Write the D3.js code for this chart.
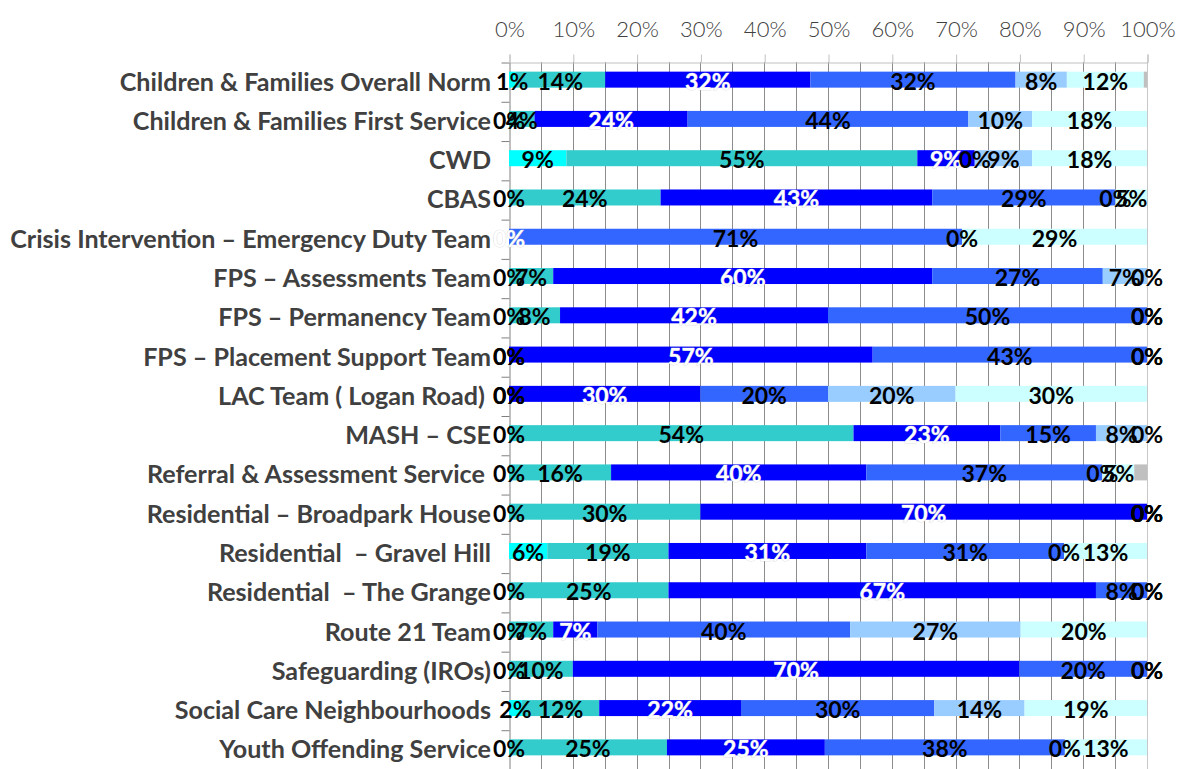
<!DOCTYPE html>
<html>
<head>
<meta charset="utf-8">
<script src="https://cdnjs.cloudflare.com/ajax/libs/d3/7.8.5/d3.min.js"></script>
<style>
body{margin:0;background:#fff;}
svg{display:block;}
.cat{font-family:Lato,"Open Sans",sans-serif;font-weight:bold;fill:#404040;white-space:pre;}
.top-axis text{font-family:Lato,"Open Sans",sans-serif;font-weight:300;fill:#404040;font-size:22px;}
.val{font-family:Lato,"Open Sans",sans-serif;font-weight:bold;font-size:23px;}
</style>
</head>
<body>
<svg></svg>
<script>

var categories = [
    "Children & Families Overall Norm",
    "Children & Families First Service",
    "CWD",
    "CBAS",
    "Crisis Intervention \u2013 Emergency Duty Team",
    "FPS \u2013 Assessments Team",
    "FPS \u2013 Permanency Team",
    "FPS \u2013 Placement Support Team",
    "LAC Team ( Logan Road) ",
    "MASH \u2013 CSE",
    "Referral & Assessment Service ",
    "Residential \u2013 Broadpark House",
    "Residential  \u2013 Gravel Hill",
    "Residential  \u2013 The Grange",
    "Route 21 Team",
    "Safeguarding (IROs)",
    "Social Care Neighbourhoods",
    "Youth Offending Service"
];

//one array per stacked series, in stacking order (null = no value)
var cyanValues      = [1, 0, 9, 0, null, 0, 0, 0, 0, 0, 0, 0, 6, 0, 0, 0, 2, 0];
var tealValues      = [14, 4, 55, 24, null, 7, 8, 0, 0, 54, 16, 30, 19, 25, 7, 10, 12, 25];
var blueValues      = [32, 24, 9, 43, 0, 60, 42, 57, 30, 23, 40, 70, 31, 67, 7, 70, 22, 25];
var midBlueValues   = [32, 44, 0, 29, 71, 27, 50, 43, 20, 15, 37, 0, 31, 8, 40, 20, 30, 38];
var paleBlueValues  = [8, 10, 9, 0, 0, 7, 0, 0, 20, 8, 0, 0, 0, 0, 27, 0, 14, 0];
var paleCyanValues  = [12, 18, 18, 5, 29, 0, 0, 0, 30, 0, 5, 0, 13, 0, 20, 0, 19, 13];
var greyValues      = [0.5, null, null, null, null, null, null, null, null, null, 2, null, null, null, null, null, null, null];

var tickValues = [0, 0.1, 0.2, 0.3, 0.4, 0.5, 0.6, 0.7, 0.8, 0.9, 1];

var allSeries = [cyanValues, tealValues, blueValues, midBlueValues,
                 paleBlueValues, paleCyanValues, greyValues];
var seriesColors = ["#00FFFF", "#33CCCC", "#0000FF", "#3366FF",
                    "#99CCFF", "#CCFFFF", "#C0C0C0"];
var labelColors  = ["#000", "#000", "#fff", "#000", "#000", "#000", null];


var initGraph = function()
{
    var screen = {width:1179, height:769};
    var plot = {left:509, right:1147, top:62, bottom:769};
    var barHeight = 16;

    var svg = d3.select("svg")
        .attr("width",screen.width)
        .attr("height",screen.height);

    var xScale = d3.scaleLinear()
        .domain([0,1])
        .range([plot.left,plot.right]);

    var yScale = d3.scaleBand()
        .domain(categories)
        .range([plot.top,plot.bottom]);

    //index scale for the category boundary ticks on the left axis
    var yIndex = d3.scaleLinear()
        .domain([0,categories.length])
        .range([plot.top,plot.bottom]);

    //gridlines every 5%
    svg.append("g")
        .selectAll("line")
        .data(d3.range(1,20).map(function(d){return d*0.05;}))
        .enter()
        .append("line")
        .attr("x1",function(d){return Math.round(xScale(d))+0.5;})
        .attr("x2",function(d){return Math.round(xScale(d))+0.5;})
        .attr("y1",plot.top)
        .attr("y2",plot.bottom)
        .attr("stroke","#8c8c8c")
        .attr("stroke-width",1);

    //right border
    svg.append("line")
        .attr("x1",Math.round(xScale(1))+0.5)
        .attr("x2",Math.round(xScale(1))+0.5)
        .attr("y1",plot.top)
        .attr("y2",plot.bottom)
        .attr("stroke","#c8c8c8");

    //top axis
    var topAxis = svg.append("g")
        .classed("top-axis",true)
        .attr("transform","translate(0.5,"+(plot.top+0.5)+")")
        .call(d3.axisTop(xScale)
              .tickValues(tickValues)
              .tickFormat(d3.format(".0%"))
              .tickSize(8)
              .tickPadding(18));
    topAxis.selectAll("line").attr("stroke","#c0c0c0");
    topAxis.select(".domain").attr("stroke","#c0c0c0");

    //left axis with ticks between categories
    var leftAxis = svg.append("g")
        .attr("transform","translate("+(plot.left+0.5)+",0.5)")
        .call(d3.axisLeft(yIndex)
              .tickValues(d3.range(categories.length+1))
              .tickFormat("")
              .tickSize(8)
              .tickSizeOuter(0));
    leftAxis.selectAll("line").attr("stroke","#808080");
    leftAxis.select(".domain").attr("stroke","#808080");

    //stack each row as share of its total
    var rows = categories.map(function(cat,i)
    {
        var total = d3.sum(allSeries,function(s){return s[i];});
        var start = 0;
        var segs = [];
        allSeries.forEach(function(s,k)
        {
            var v = s[i];
            if(v == null) { return; }
            var share = v/total;
            segs.push({cat:cat, series:k, value:v, x0:start, x1:start+share});
            start += share;
        });
        return segs;
    });
    var segments = d3.merge(rows);

    var barY = function(seg)
    {
        return yScale(seg.cat)+yScale.bandwidth()/2-2-barHeight/2;
    };

    svg.append("g")
        .classed("bars",true)
        .selectAll("rect")
        .data(segments.filter(function(s){return s.value>0;}))
        .enter()
        .append("rect")
        .attr("x",function(s){return xScale(s.x0);})
        .attr("width",function(s){return xScale(s.x1)-xScale(s.x0);})
        .attr("y",barY)
        .attr("height",barHeight)
        .attr("fill",function(s){return seriesColors[s.series];});

    //category names
    var names = svg.append("g")
        .selectAll("text")
        .data(categories)
        .enter()
        .append("text")
        .classed("cat",true)
        .attr("text-anchor","end")
        .attr("x",491)
        .attr("y",function(c){return yScale(c)+yScale.bandwidth()/2-1;})
        .attr("dominant-baseline","central")
        .style("font-size","20px")
        .text(function(c){return c;});

    //fit the longest name into the space on the left
    var widest = d3.max(names.nodes(),function(n){return n.getComputedTextLength();});
    names.style("font-size",(20*481/widest)+"px");

    //value labels
    svg.append("g")
        .selectAll("text")
        .data(segments.filter(function(s){return labelColors[s.series]!=null;}))
        .enter()
        .append("text")
        .classed("val",true)
        .attr("text-anchor","middle")
        .attr("dominant-baseline","central")
        .attr("x",function(s){return xScale((s.x0+s.x1)/2);})
        .attr("y",function(s){return barY(s)+barHeight/2+1;})
        .attr("fill",function(s){return labelColors[s.series];})
        .attr("stroke",function(s){return s.series==2 ? "#c8c8c8" : "none";})
        .attr("stroke-width",0.6)
        .style("paint-order","stroke")
        .text(function(s){return Math.round(s.value)+"%";});
}

initGraph();
</script>
</body>
</html>
